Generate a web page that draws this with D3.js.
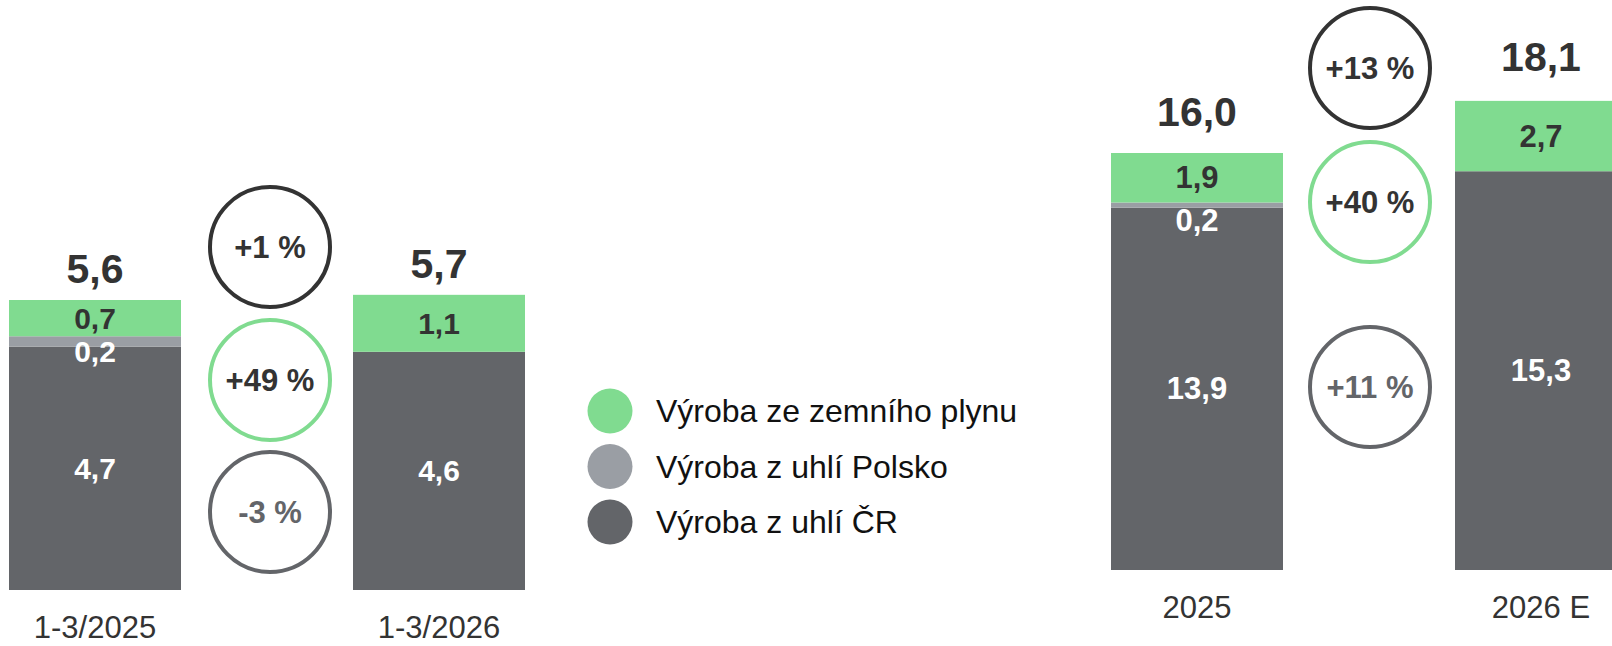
<!DOCTYPE html>
<html>
<head>
<meta charset="utf-8">
<script src="https://cdn.jsdelivr.net/npm/d3@7"></script>
<style>
  html, body { margin: 0; padding: 0; background: #fff; }
  svg { display: block; font-family: "Liberation Sans", Arial, sans-serif; }
</style>
</head>
<body>
<svg id="chart" width="1612" height="646"></svg>
<script>
// ---------- DATA ----------
const seriesNames = ["Výroba ze zemního plynu", "Výroba z uhlí Polsko", "Výroba z uhlí ČR"];

const categoriesLeft = ["1-3/2025", "1-3/2026"];
const gasLeft = [0.7, 1.1];
const polandLeft = [0.2, 0];
const czLeft = [4.7, 4.6];
const totalsLeft = [5.6, 5.7];
const changesLeft = ["+1 %", "+49 %", "-3 %"];   // total, gas, coal ČR

const categoriesRight = ["2025", "2026 E"];
const gasRight = [1.9, 2.7];
const polandRight = [0.2, 0];
const czRight = [13.9, 15.3];
const totalsRight = [16.0, 18.1];
const changesRight = ["+13 %", "+40 %", "+11 %"];

// ---------- STYLE ----------
const colGas = "#80db90", colPl = "#9a9ea4", colCz = "#636569", colText = "#333333";
const ringColors = [colText, colGas, colCz];
const ringTextColors = [colText, colText, colCz];

const svg = d3.select("#chart");
const locale = d3.formatLocale({decimal: ",", thousands: " ", grouping: [3], currency: ["", ""]});
const fmt = locale.format(".1f");

function panel(opts) {
  const {cats, gas, pl, cz, totals, changes, xRange, yBase, yTopVal, yTopPx, f, ringY, ringR, plOffset} = opts;
  const x = d3.scaleBand().domain(cats).range(xRange).paddingInner(0.5).paddingOuter(0);
  const y = d3.scaleLinear().domain([0, yTopVal]).range([yBase, yTopPx]);
  const rows = cats.map((c, i) => ({cat: c, cz: cz[i], pl: pl[i], gas: gas[i], total: totals[i]}));
  const stack = d3.stack().keys(["cz", "pl", "gas"])(rows);
  const colors = {cz: colCz, pl: colPl, gas: colGas};
  const g = svg.append("g");

  stack.forEach(layer => {
    g.selectAll(null).data(layer.filter(d => d[1] > d[0])).join("rect")
      .attr("x", d => x(d.data.cat))
      .attr("width", x.bandwidth())
      .attr("y", d => y(d[1]))
      .attr("height", d => y(d[0]) - y(d[1]))
      .attr("fill", colors[layer.key]);
  });

  function txt(xp, yp, s, size, weight, color, baseline) {
    g.append("text")
      .attr("x", xp).attr("y", yp)
      .attr("text-anchor", "middle")
      .attr("dominant-baseline", baseline || "central")
      .attr("font-size", size)
      .attr("font-weight", weight)
      .attr("fill", color)
      .text(s);
  }

  stack.forEach(layer => {
    layer.filter(d => d[1] > d[0]).forEach(d => {
      const cx = x(d.data.cat) + x.bandwidth() / 2;
      let cy = (y(d[0]) + y(d[1])) / 2;
      let color = "#fff";
      if (layer.key === "gas") color = colText;
      if (layer.key === "pl") cy += plOffset;
      txt(cx, cy, fmt(d[1] - d[0]), f.seg, "bold", color);
    });
  });

  rows.forEach(r => {
    const cx = x(r.cat) + x.bandwidth() / 2;
    txt(cx, y(r.total) - f.totGap, fmt(r.total), f.tot, "bold", colText, "alphabetic");
    txt(cx, f.catY, r.cat, f.cat, "normal", colText, "alphabetic");
  });

  const mid = (x(cats[0]) + x.bandwidth() + x(cats[1])) / 2 + (opts.ringDx || 0);
  changes.forEach((c, i) => {
    g.append("circle")
      .attr("cx", mid).attr("cy", ringY[i]).attr("r", ringR)
      .attr("fill", "none").attr("stroke", ringColors[i]).attr("stroke-width", 4);
    txt(mid, ringY[i], c, f.ring, "bold", ringTextColors[i]);
  });
}

panel({
  cats: categoriesLeft, gas: gasLeft, pl: polandLeft, cz: czLeft, totals: totalsLeft, changes: changesLeft,
  xRange: [9, 525], yBase: 590, yTopVal: 5.6, yTopPx: 300, plOffset: 10,
  f: {seg: 30, tot: 41, totGap: 17, cat: 31, catY: 638, ring: 31},
  ringY: [247, 380, 512], ringR: 60, ringDx: 3
});

panel({
  cats: categoriesRight, gas: gasRight, pl: polandRight, cz: czRight, totals: totalsRight, changes: changesRight,
  xRange: [1111, 1627], yBase: 570, yTopVal: 16.0, yTopPx: 153, plOffset: 15,
  f: {seg: 31, tot: 41, totGap: 27, cat: 31, catY: 618, ring: 31},
  ringY: [68, 202, 387], ringR: 60, ringDx: 1
});

// ---------- LEGEND ----------
const legendColors = [colGas, colPl, colCz];
const ly = d3.scalePoint().domain(seriesNames).range([411, 522]);
const lg = svg.append("g");
seriesNames.forEach((s, i) => {
  lg.append("circle").attr("cx", 610).attr("cy", ly(s)).attr("r", 22.5).attr("fill", legendColors[i]);
  lg.append("text").attr("x", 656).attr("y", ly(s) + 11)
    .attr("font-size", 32).attr("fill", "#111").text(s);
});
</script>
</body>
</html>
